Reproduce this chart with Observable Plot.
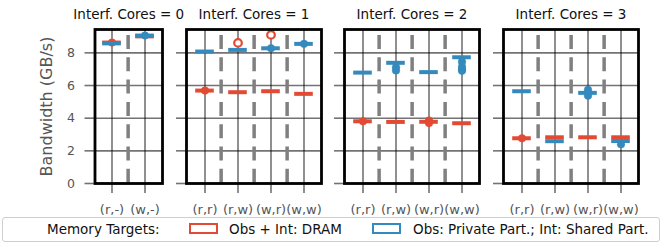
<!DOCTYPE html>
<html><head><meta charset="utf-8">
<script src="https://cdn.jsdelivr.net/npm/d3@7"></script>
<script src="https://cdn.jsdelivr.net/npm/@observablehq/plot@0.6"></script>
<style>
body{margin:0;background:#fff;font-family:"DejaVu Sans",sans-serif}
#root{position:relative;width:662px;height:244px;overflow:hidden;background:#fff}
.panel{position:absolute;top:0}
#legend{position:absolute;left:2px;top:217px;width:656px;height:23px;border:1px solid #cfcfcf;border-radius:3px;background:#fff;font-size:13.5px;color:#111}
#legend span{position:absolute;top:3px;white-space:nowrap;line-height:16px}
#legend i{position:absolute;top:5px;width:25px;height:7px;border:2px solid}
</style></head><body><div id="root"></div>
<script>
// ---- data ----
const coreCounts = [0, 1, 2, 3];
const categories = [
  ["(r,-)", "(w,-)"],
  ["(r,r)", "(r,w)", "(w,r)", "(w,w)"],
  ["(r,r)", "(r,w)", "(w,r)", "(w,w)"],
  ["(r,r)", "(r,w)", "(w,r)", "(w,w)"]
];
const seriesNames = ["Obs + Int: DRAM", "Obs: Private Part.; Int: Shared Part."];
const seriesColors = ["#E24A33", "#348ABD"];
// medians (GB/s)
const dramMedian = [[8.63, 9.01], [5.69, 5.59, 5.65, 5.49], [3.81, 3.77, 3.78, 3.69], [2.77, 2.83, 2.83, 2.83]];
const privMedian = [[8.58, 9.06], [8.08, 8.18, 8.28, 8.55], [6.79, 7.39, 6.82, 7.73], [5.65, 2.59, 5.55, 2.60]];
// lower whisker end (null = collapsed)
const dramWhiskerLow = [[null, null], [null, null, null, null], [null, null, null, null], [null, null, null, null]];
const privWhiskerLow = [[null, null], [null, null, null, null], [null, 6.98, null, 6.98], [null, null, null, null]];
// outlier clusters (filled)
const dramFilled = [[[8.63], []], [[5.69], [], [], []], [[3.81], [], [3.86, 3.7], []], [[2.77], [], [], []]];
const privFilled = [[[], [9.06]], [[], [], [8.28], [8.55]], [[], [7.12, 6.92], [], [7.45, 7.15, 7.0, 6.9]], [[], [], [5.74, 5.55, 5.38], [2.4]]];
// single outliers (hollow)
const dramHollow = [[[], []], [[], [8.61], [9.1], []], [[], [], [], []], [[], [], [], []]];
const yTicks = [0, 2, 4, 6, 8];
const yLabel = "Bandwidth (GB/s)";
const legendTitle = "Memory Targets:";

// ---- layout ----
const panelLeft = [0, 174, 332, 491];
const step = 33.75;

function rows(f, medians, whisk, filled, hollow, s) {
  const out = {box: [], dots: [], rings: []};
  categories[f].forEach((c, i) => {
    out.box.push({cat: c, med: medians[f][i], lo: whisk[f][i] ?? medians[f][i], s});
    filled[f][i].forEach(v => out.dots.push({cat: c, v, s}));
    if (hollow) hollow[f][i].forEach(v => out.rings.push({cat: c, v, s}));
  });
  return out;
}

function panel(f) {
  const cats = categories[f];
  const first = f === 0;
  const ml = first ? 94.5 : 12;
  const inner = cats.length * step;
  const mr = first ? 9.5 : 10;
  const dram = rows(f, dramMedian, dramWhiskerLow, dramFilled, dramHollow, 0);
  const priv = rows(f, privMedian, privWhiskerLow, privFilled, null, 1);
  const lineStyle = {stroke: "#000", strokeOpacity: 0.55, strokeWidth: 1.6};
  const marks = [
    Plot.gridY(yTicks, lineStyle),
    Plot.gridX(cats, lineStyle),
    Plot.ruleX(cats.slice(1), {x: d => d, dx: -step / 2, stroke: "#808080", strokeWidth: 3.5, strokeDasharray: "14,8.3", strokeDashoffset: 16.3}),
    Plot.axisY({ticks: yTicks, tickSize: 10, tickPadding: 10, fontSize: 12.5, label: null, tickFormat: first ? (d => d) : (() => ""), ...lineStyle, fill: "#555"}),
    Plot.axisX({tickSize: 10, tickPadding: 11, fontSize: 13, label: null, ...lineStyle, fill: "#555"}),
  ];
  for (const g of [dram, priv]) {
    const col = seriesColors[g.box[0].s];
    marks.push(Plot.ruleX(g.box.filter(d => d.lo !== d.med), {x: "cat", y1: "lo", y2: "med", stroke: col, strokeWidth: 4}));
    marks.push(Plot.tickY(g.box, {x: "cat", y: "med", stroke: col, strokeWidth: 4, insetLeft: 7.2, insetRight: 7.2}));
    marks.push(Plot.dot(g.dots, {x: "cat", y: "v", r: 3.8, fill: col, stroke: col, strokeWidth: 0.5}));
    marks.push(Plot.dot(g.rings, {x: "cat", y: "v", r: 3.8, fill: "#fff", stroke: col, strokeWidth: 2.2}));
  }
  marks.push(Plot.frame({stroke: "#000", strokeWidth: 2.8}));
  marks.push(Plot.text([`Interf. Cores = ${coreCounts[f]}`], {frameAnchor: "top", dy: -20, fontSize: 13.5, fill: "#111"}));
  if (first) marks.push(Plot.text([yLabel], {frameAnchor: "left", textAnchor: "middle", dx: -48, rotate: -90, fontSize: 16, fill: "#555"}));
  const svg = Plot.plot({
    width: ml + inner + mr, height: 217,
    marginLeft: ml, marginRight: mr, marginTop: 29, marginBottom: 34,
    style: {fontFamily: "DejaVu Sans", background: "transparent", overflow: "visible"},
    x: {type: "band", domain: cats, padding: 0},
    y: {domain: [0, 9.43]},
    marks
  });
  svg.classList.add("panel");
  svg.style.left = panelLeft[f] + "px";
  return svg;
}

const root = document.getElementById("root");
coreCounts.forEach((_, f) => root.appendChild(panel(f)));

// legend
const lg = document.createElement("div");
lg.id = "legend";
const sp = (t, x) => { const s = document.createElement("span"); s.textContent = t; s.style.left = x + "px"; lg.appendChild(s); };
const sw = (c, x) => { const s = document.createElement("i"); s.style.borderColor = c; s.style.left = x + "px"; lg.appendChild(s); };
sp(legendTitle, 44);
sw(seriesColors[0], 186);
sp(seriesNames[0], 226);
sw(seriesColors[1], 369);
sp(seriesNames[1], 410);
root.appendChild(lg);
</script></body></html>
